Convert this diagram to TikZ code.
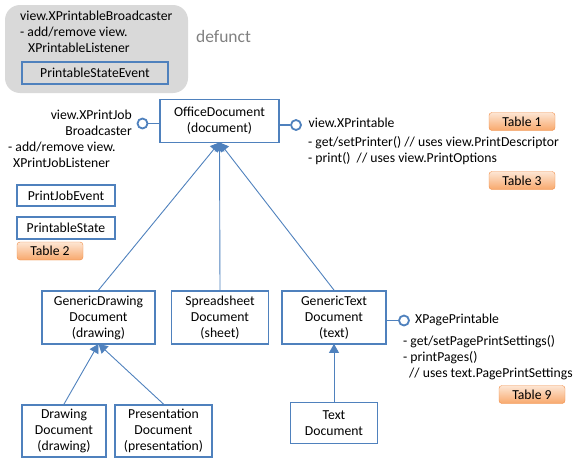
\documentclass[tikz,border=0pt]{standalone}
\usepackage{fontspec}
\setmainfont{Carlito}
\usepackage{tikz}
\usepackage{xcolor}
\usetikzlibrary{arrows.meta,positioning}
\definecolor{umlblue}{RGB}{79,129,189}
\definecolor{groupgrey}{RGB}{217,217,217}
\definecolor{notegrey}{RGB}{128,128,128}
\definecolor{tabtop}{RGB}{253,230,212}
\definecolor{tabbottom}{RGB}{248,168,108}
\definecolor{tabedge}{RGB}{240,140,70}
\tikzset{
    doc-box/.style = {draw=umlblue, line width=1.8pt, fill=white, rectangle, align=center, inner sep=2pt},
    table-tab/.style = {draw=tabedge, top color=tabtop, bottom color=tabbottom, rounded corners=3pt, minimum width=66pt, minimum height=18pt, inner sep=0pt},
    lollipop/.style = {draw=umlblue, line width=1.8pt, fill=white, circle, minimum size=10pt, inner sep=0pt},
    note-text/.style = {inner sep=0pt, anchor=north west, align=left},
    inherit/.style = {draw=umlblue, line width=0.9pt, -{Triangle[length=9pt,width=10pt]}},
}

\begin{document}
\begin{tikzpicture}[x=1pt,y=-1pt,font=\fontsize{13.7}{16}\selectfont]
\useasboundingbox (0,0) rectangle (583,471);

% defunct broadcaster
\node [fill=groupgrey, rounded corners=15pt, minimum width=183pt, minimum height=88pt] (defunct-group) at (96.5,49) {};
\node [note-text] (defunct-text) at (20,10.5) {view.XPrintableBroadcaster\\- add/remove view.\\\hspace{8pt}XPrintableListener};
\node [doc-box, fill=groupgrey, minimum width=146pt, minimum height=22pt] (state-event) at (95,73) {PrintableStateEvent};
\node [text=notegrey, font=\fontsize{17.5}{20}\selectfont, anchor=west, inner sep=0pt] (defunct-label) at (196,36) {defunct};

% base document
\node [doc-box, minimum width=119pt, minimum height=43pt] (office) at (219.5,121) {OfficeDocument\\(document)};

% print job broadcaster
\node [lollipop] (job-lolli) at (142.5,123.5) {};
\draw [umlblue, line width=1.8pt] (job-lolli) -- (job-lolli -| office.west);
\node [inner sep=0pt, anchor=north east, align=right] (job-text) at (132,109.5) {view.XPrintJob\\Broadcaster};
\node [note-text] (job-listener) at (8,141.5) {- add/remove view.\\\hspace{5pt}XPrintJobListener};
\node [doc-box, minimum width=98pt, minimum height=21pt] (job-event) at (66,195.5) {PrintJobEvent};
\node [doc-box, minimum width=98pt, minimum height=22pt] (print-state) at (66,228) {PrintableState};
\node [table-tab] (table2) at (50,251) {Table 2};

% printable
\node [lollipop] (printable-lolli) at (296,125) {};
\draw [umlblue, line width=1.8pt] (printable-lolli) -- (printable-lolli -| office.east);
\node [note-text] (printable-text) at (308.5,118) {view.XPrintable};
\node [note-text] (printable-ops) at (308,136.5) {- get/setPrinter() // uses view.PrintDescriptor\\- print()\ \ // uses view.PrintOptions};
\node [table-tab] (table1) at (522,121.5) {Table 1};
\node [table-tab] (table3) at (522,180.5) {Table 3};

% derived documents
\node [doc-box, minimum width=113pt, minimum height=53pt] (gen-drawing) at (98.5,317.5) {GenericDrawing\\Document\\(drawing)};
\node [doc-box, minimum width=97pt, minimum height=53pt] (spreadsheet) at (220,317.5) {Spreadsheet\\Document\\(sheet)};
\node [doc-box, minimum width=104pt, minimum height=53pt] (gen-text) at (334,317.5) {GenericText\\Document\\(text)};
\node [doc-box, minimum width=84pt, minimum height=52pt] (drawing) at (64,431) {Drawing\\Document\\(drawing)};
\node [doc-box, minimum width=97pt, minimum height=52pt] (presentation) at (163.5,431) {Presentation\\Document\\(presentation)};
\node [doc-box, minimum width=87pt, minimum height=41pt] (text-doc) at (334,423) {Text\\Document};

\draw [inherit] (gen-drawing.north) -- ([yshift=1pt]office.south);
\draw [inherit] (spreadsheet.north) -- ([yshift=1pt]office.south);
\draw [inherit] (gen-text.north) -- ([yshift=1pt]office.south);
\draw [inherit] (drawing.north) -- ([yshift=1pt]gen-drawing.south);
\draw [inherit] (presentation.north) -- ([yshift=1pt]gen-drawing.south);
\draw [inherit] (text-doc.north) -- ([yshift=1pt]gen-text.south);

% page printable
\node [lollipop] (page-lolli) at (404,320.5) {};
\draw [umlblue, line width=1.8pt] (page-lolli) -- (page-lolli -| gen-text.east);
\node [note-text] (page-text) at (415,313.5) {XPagePrintable};
\node [note-text] (page-ops) at (403,335) {- get/setPagePrintSettings()\\- printPages()\\\hspace{6pt}// uses text.PagePrintSettings};
\node [table-tab] (table9) at (532,394.5) {Table 9};
\end{tikzpicture}
\end{document}
